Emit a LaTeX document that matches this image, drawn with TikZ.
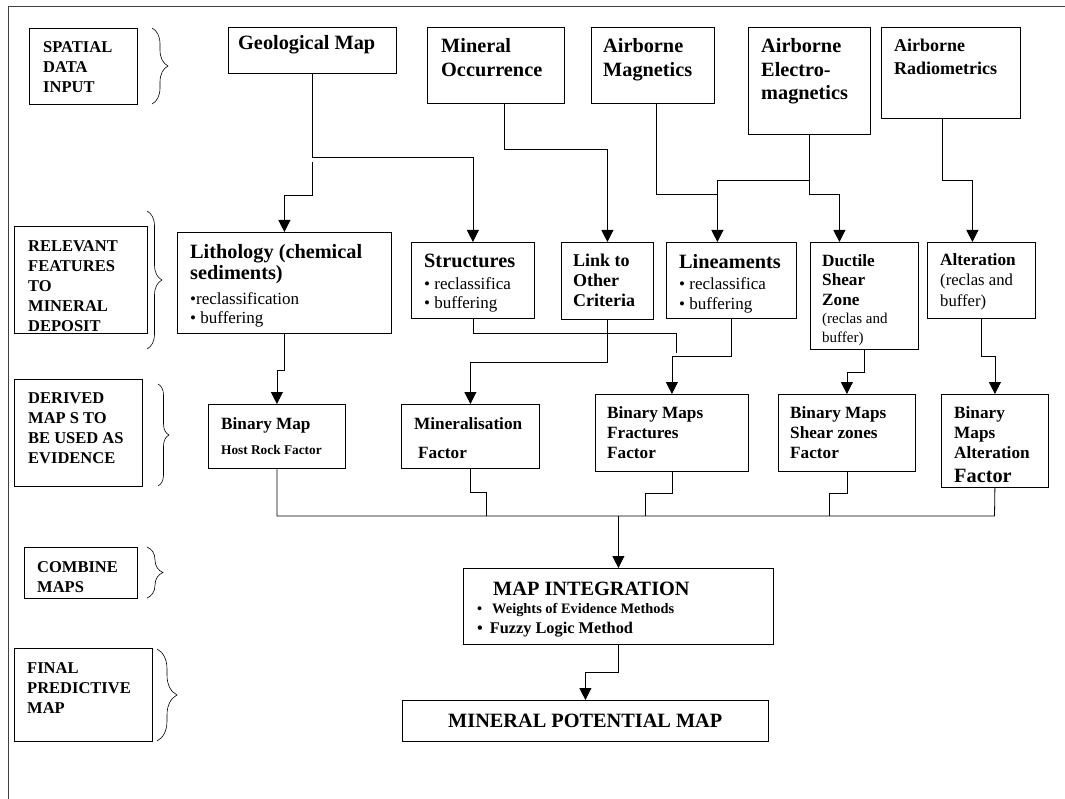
\documentclass[tikz,border=0pt]{standalone}
\usepackage{fontspec}
\setmainfont{Liberation Serif}
\usepackage{tikz}
\usetikzlibrary{arrows.meta, decorations.pathreplacing}
\newcommand{\fsz}[2]{\fontsize{#1}{#2}\selectfont}

\begin{document}
\begin{tikzpicture}
  [
    x=1pt, y=-1pt,
    Box/.style={draw, line width=0.8pt, anchor=north west, inner sep=0pt},
    Txt/.style={anchor=base west, inner sep=0pt, align=left},
    Side/.style={Txt, font=\fsz{16.5}{20}\bfseries},
    Head/.style={Txt, font=\fsz{20.3}{24}\bfseries},
    Sub/.style={Txt, font=\fsz{17.2}{20}\bfseries},
    Note/.style={Txt, font=\fsz{17}{20}},
    Line/.style={draw, line width=0.8pt},
    Arrow/.style={draw, line width=0.8pt, -{Triangle[width=12pt, length=12pt]}},
    Brace/.style={draw, line width=0.6pt, decorate, decoration={brace, amplitude=#1}}
  ]
  \useasboundingbox (0,0) rectangle (1065,799);
  \draw[line width=1pt, black!75] (8,799) -- (8,7) -- (1065,7);
  % Side labels (text nodes sit on the baseline of their last line)
  \node[Box, minimum width=108pt, minimum height=76pt] (spatial) at (29,28) {};
  \node[Box, minimum width=133pt, minimum height=107pt] (rel) at (14,226) {};
  \node[Box, minimum width=128pt, minimum height=107pt] (der) at (14,379) {};
  \node[Box, minimum width=113pt, minimum height=51pt] (comb) at (24,547) {};
  \node[Box, minimum width=138pt, minimum height=93pt] (fin) at (14,648) {};
  \node[Side] (spatialT) at (43,93) {SPATIAL\\DATA\\INPUT};
  \node[Side] (relT) at (28,332) {RELEVANT\\FEATURES\\TO\\MINERAL\\DEPOSIT};
  \node[Side] (derT) at (28,463) {DERIVED\\MAP S TO\\BE USED AS\\EVIDENCE};
  \node[Side] (combT) at (37,592) {COMBINE\\MAPS};
  \node[Side] (finT) at (27,713) {FINAL\\PREDICTIVE\\MAP};
  \draw[Brace=16pt] (152,28) -- (152,104);
  \draw[Brace=15pt] (147,211) -- (147,349);
  \draw[Brace=11pt] (158,384) -- (158,486);
  \draw[Brace=16pt] (147,547) -- (147,598);
  \draw[Brace=20pt] (157,649) -- (157,741);
  % Input maps
  \node[Box, minimum width=168pt, minimum height=46pt] (geo) at (228,27) {};
  \node[Box, minimum width=137pt, minimum height=76pt] (minocc) at (427,27) {};
  \node[Box, minimum width=123pt, minimum height=76pt] (mag) at (591,27) {};
  \node[Box, minimum width=122pt, minimum height=107pt] (em) at (748,27) {};
  \node[Box, minimum width=139pt, minimum height=91pt] (rad) at (881,27) {};
  \node[Head] (geoT) at (238,50) {Geological Map};
  \node[Head] (minoccT) at (441,77) {Mineral\\Occurrence};
  \node[Head] (magT) at (603,77) {Airborne\\Magnetics};
  \node[Head, font=\fsz{20.3}{23.5}\bfseries] (emT) at (761,100) {Airborne\\Electro-\\magnetics};
  \node[Txt, font=\fsz{18}{23}\bfseries] (radT) at (894,75) {Airborne\\Radiometrics};
  % Features
  \node[Box, minimum width=214pt, minimum height=101pt] (lith) at (177,232) {};
  \node[Box, minimum width=123pt, minimum height=76pt] (struct) at (411,242) {};
  \node[Box, minimum width=92pt, minimum height=77pt] (link) at (561,242) {};
  \node[Box, minimum width=130pt, minimum height=76pt] (lin) at (666,242) {};
  \node[Box, minimum width=108pt, minimum height=107pt] (dsz) at (810,242) {};
  \node[Box, minimum width=108pt, minimum height=76pt] (alt) at (927,242) {};
  \node[Note] (lithT) at (190,324) {{\fsz{20.3}{24}\bfseries Lithology (chemical}\\[2pt]
    {\fsz{20.3}{24}\bfseries sediments)}\\[4pt] \textbullet reclassification\\ \textbullet\ buffering};
  \node[Note] (structT) at (424,309) {{\fsz{20.3}{24}\bfseries Structures}\\[1pt]
    \textbullet\ reclassifica\\ \textbullet\ buffering};
  \node[Sub, font=\fsz{18}{20}\bfseries] (linkT) at (573,307) {Link to\\Other\\Criteria};
  \node[Note] (linT) at (679,310) {{\fsz{20.3}{24}\bfseries Lineaments}\\[1pt]
    \textbullet\ reclassifica\\ \textbullet\ buffering};
  \node[Sub] (dszT) at (822,342) {Ductile\\Shear\\Zone\\[-3pt]
    {\fsz{15}{18}\mdseries (reclas and}\\[-1pt]{\fsz{15}{18}\mdseries buffer)}};
  \node[Sub] (altT) at (940,307) {Alteration\\{\fsz{16.7}{20}\mdseries (reclas and}\\[1pt]
    {\fsz{16.7}{20}\mdseries buffer)}};
  % Derived maps
  \node[Box, minimum width=137pt, minimum height=64pt] (bmap) at (208,404) {};
  \node[Box, minimum width=138pt, minimum height=64pt] (minf) at (401,404) {};
  \node[Box, minimum width=153pt, minimum height=77pt] (frac) at (595,394) {};
  \node[Box, minimum width=137pt, minimum height=77pt] (shear) at (778,394) {};
  \node[Box, minimum width=107pt, minimum height=93pt] (altb) at (941,394) {};
  \node[Sub] (bmapT) at (221,454) {Binary Map\\[5pt]{\fsz{13.3}{16}Host Rock Factor}};
  \node[Sub] (minfT) at (414,458) {Mineralisation\\[9pt]\hspace{4pt}Factor};
  \node[Sub] (fracT) at (607,458) {Binary Maps\\Fractures\\Factor};
  \node[Sub] (shearT) at (790,458) {Binary Maps\\Shear zones\\Factor};
  \node[Sub] (altbT) at (954,482) {Binary\\Maps\\Alteration\\[4pt]{\fsz{20.3}{24}Factor}};
  % Integration
  \node[Box, minimum width=310pt, minimum height=76pt] (mi) at (463,568) {};
  \node[Box, minimum width=366pt, minimum height=41pt] (mpm) at (402,700) {};
  \node[Head] (miT) at (477,633) {\hspace{16pt}MAP INTEGRATION\\[-6pt]
    {\fsz{14.4}{18}\textbullet\hspace{10pt}Weights of Evidence Methods}\\[-4pt]
    {\fsz{16.3}{20}\textbullet\hspace{7pt}Fuzzy Logic Method}};
  \node[Head] (mpmT) at (448,727) {MINERAL POTENTIAL MAP};
  % Join points
  \coordinate (magJ) at (717,194);
  \coordinate (strJ) at (676,353);
  \coordinate (busR) at (994.5,516);
  \coordinate (j1) at (486,516);
  \coordinate (j2) at (645,516);
  \coordinate (j3) at (829,516);
  % Lines
  \path [Arrow] (geo.south) -- ++(0,84) -| (struct.north);
  \path [Arrow] ([yshift=-88pt]geo.south) -- ++(0,34) -| (lith.north);
  \path [Arrow] ([xshift=8.5pt]minocc.south) -- ++(0,46) -| (link.north);
  \path [Line] ([xshift=3.5pt]mag.south) |- (magJ);
  \path [Arrow] (em.south) -- ++(0,46) -| ([xshift=-14pt]lin.north);
  \path [Arrow] (em.south) -- ++(0,60) -| ([xshift=-25pt]dsz.north);
  \path [Arrow] ([xshift=-8.5pt]rad.south) -- ++(0,62) -| ([xshift=-9pt]alt.north);
  \path [Arrow] (lith.south) -- ++(0,37) -| (bmap.north);
  \path [Line] (struct.south) -- ++(0,15) -| (strJ);
  \path [Arrow] (link.south) -- ++(0,43) -| (minf.north);
  \path [Arrow] (lin.south) -- ++(0,38) -| (frac.north);
  \path [Arrow] (dsz.south) -- ++(0,23) -| (shear.north);
  \path [Arrow] (alt.south) -- ++(0,38) -| (altb.north);
  \path [Line] (bmap.south) |- (busR) -- (altb.south);
  \path [Line] (minf.south) -- ++(0,24) -| (j1);
  \path [Line] (frac.south) -- ++(0,22) -| (j2);
  \path [Line] (shear.south) -- ++(0,22) -| (j3);
  \path [Arrow] (mi.north |- busR) -- (mi.north);
  \path [Arrow] (mi.south) -- ++(0,28) -| (mpm.north);
\end{tikzpicture}
\end{document}
